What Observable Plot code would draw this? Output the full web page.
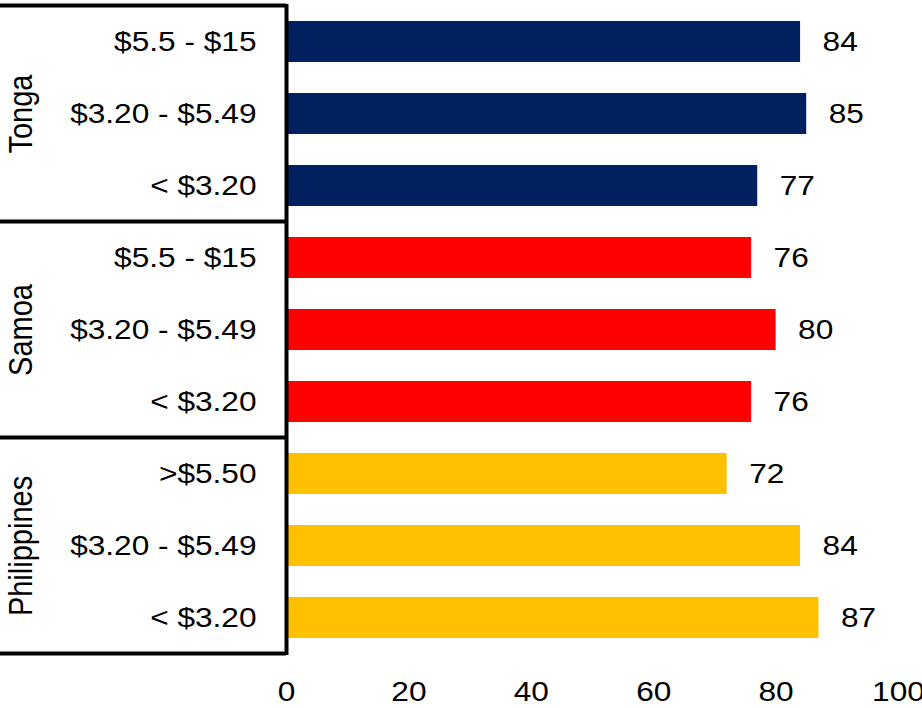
<!DOCTYPE html>
<html>
<head>
<meta charset="utf-8">
<script src="https://cdn.jsdelivr.net/npm/d3@7"></script>
<script src="https://cdn.jsdelivr.net/npm/@observablehq/plot@0.6"></script>
<style>
  body { margin: 0; background: #fff; }
  #chart { width: 922px; height: 708px; overflow: hidden; }
</style>
</head>
<body>
<div id="chart"></div>
<script>
// ---- data ----
const countries = ["Tonga", "Samoa", "Philippines"];
const tongaCategories = ["$5.5 - $15", "$3.20 - $5.49", "< $3.20"];
const samoaCategories = ["$5.5 - $15", "$3.20 - $5.49", "< $3.20"];
const philippinesCategories = [">$5.50", "$3.20 - $5.49", "< $3.20"];
const tongaValues = [84, 85, 77];
const samoaValues = [76, 80, 76];
const philippinesValues = [72, 84, 87];
const countryColors = ["#002060", "#FF0000", "#FFC000"];
const xTicks = [0, 20, 40, 60, 80, 100];

const categoriesByCountry = [tongaCategories, samoaCategories, philippinesCategories];
const valuesByCountry = [tongaValues, samoaValues, philippinesValues];

const rows = [];
countries.forEach((c, i) => {
  categoriesByCountry[i].forEach((cat, j) => {
    rows.push({country: c, category: cat, key: c + "|" + cat, value: valuesByCountry[i][j], color: countryColors[i]});
  });
});
const keys = rows.map(d => d.key);
const groups = countries.map((c, i) => ({
  country: c,
  mid: c + "|" + categoriesByCountry[i][1],
  first: c + "|" + categoriesByCountry[i][0],
  last: c + "|" + categoriesByCountry[i][categoriesByCountry[i].length - 1]
}));

const chart = Plot.plot({
  width: 922,
  height: 708,
  marginTop: 4,
  marginBottom: 53,
  marginLeft: 286,
  marginRight: 24,
  style: {fontFamily: "'Liberation Sans', Arial, sans-serif", fontSize: "27.5px", color: "#000", background: "#fff"},
  x: {domain: [0, 100]},
  y: {domain: keys, paddingInner: 0.43, paddingOuter: 0.215},
  marks: [
    Plot.barX(rows, {x: "value", y: "key", fill: "color"}),
    Plot.text(rows, {x: "value", y: "key", text: d => String(d.value), dx: 22, textAnchor: "start", fill: "#000"}),
    Plot.ruleX([0], {stroke: "#000", strokeWidth: 4}),
    Plot.axisY({tickSize: 0, tickPadding: 30, tickFormat: k => k.split("|")[1], label: null}),
    Plot.axisX({ticks: xTicks, tickSize: 0, tickPadding: 26, label: null}),
    Plot.text(groups, {y: "mid", text: "country", rotate: -90, frameAnchor: "left", dx: -265, textAnchor: "middle", fontSize: 29, fill: "#000"})
  ]
});

document.getElementById("chart").appendChild(chart);

// separator lines of the grouped category axis, positioned from Plot's own scales
const ys = chart.scale("y");
const xs = chart.scale("x");
const gap = (ys.step - ys.bandwidth) / 2;
const x0 = xs.apply(0);
const lineYs = groups.map(g => ys.apply(g.first) - gap);
lineYs.push(ys.apply(groups[groups.length - 1].last) + ys.bandwidth + gap);
const svg = d3.select(chart);
svg.append("g").selectAll("line").data(lineYs).join("line")
  .attr("x1", 0).attr("x2", x0)
  .attr("y1", d => d).attr("y2", d => d)
  .attr("stroke", "#000").attr("stroke-width", 4);

// widen glyphs horizontally (reference type is horizontally stretched), about each text's anchor
const SX = 1.15;
svg.selectAll("text").each(function() {
  const t = this.getAttribute("transform") || "";
  const m = t.match(/translate\(\s*([-\d.e]+)[ ,]+([-\d.e]+)\s*\)/);
  const a = m ? +m[1] : 0, b = m ? +m[2] : 0;
  const rotated = /rotate/.test(t);
  const ax = a + (rotated ? 0 : (+this.getAttribute("x") || 0));
  const ay = b + (rotated ? 0 : (+this.getAttribute("y") || 0));
  this.setAttribute("transform", `translate(${ax},${ay}) scale(${SX},1) translate(${-ax},${-ay}) ${t}`);
});
</script>
</body>
</html>
